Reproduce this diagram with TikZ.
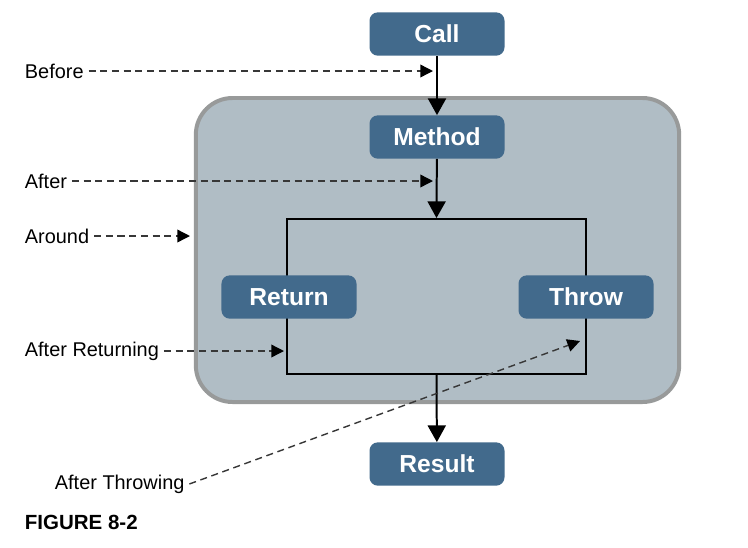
\documentclass[tikz,border=0pt]{standalone}
\usepackage{fontspec}
\setmainfont{Liberation Sans}
\usetikzlibrary{shapes,arrows.meta,positioning,calc}
\definecolor{boxblue}{RGB}{66,106,140}
\definecolor{panelgray}{RGB}{176,189,197}
\definecolor{panelborder}{RGB}{152,154,154}
\definecolor{dashgray}{RGB}{55,55,55}

\begin{document}
\begin{tikzpicture}[x=0.03cm, y=-0.03cm,
        block/.style={rectangle, rounded corners=0.25cm, fill=boxblue, text=white, minimum width=4.05cm, minimum height=1.3cm, inner sep=0pt, font=\fontsize{21}{24}\selectfont\bfseries},
        advice/.style={anchor=west, inner sep=4pt, font=\fontsize{17}{20}\selectfont},
        flow/.style={-{Triangle[length=0.5cm, width=0.54cm]}, line width=1.7pt},
        pointer/.style={dash pattern=on 6pt off 4pt, -{Triangle[length=0.38cm, width=0.38cm, color=black]}, line width=1.2pt, draw=dashgray}]

        \useasboundingbox (0,0) rectangle (748,547);

        % Advice panel
        \node[draw=panelborder, line width=3.4pt, fill=panelgray, rounded corners=1.1cm, minimum width=14.5cm, minimum height=9.12cm, inner sep=0pt] (panel) at (437.5,250) {};
        \node[draw, line width=1.7pt, minimum width=8.97cm, minimum height=4.65cm, inner sep=0pt] (frame) at (436.5,296.5) {};

        % Join points
        \node[block] (call) at (437,34) {Call};
        \node[block] (method) at (437,137) {Method};
        \node[block] (return) at (289,297) {Return};
        \node[block] (throw) at (586,297) {Throw};
        \node[block] (result) at (437,464) {Result};

        \draw[flow] (call) -- (method);
        \draw[flow] (method) -- (frame.north);
        \draw[flow] (frame.south) -- (result);

        % Advice types
        \node[advice] (before) at (20,71) {Before};
        \node[advice] (after) at (20,181) {After};
        \node[advice] (around) at (20,236) {Around};
        \node[advice] (afterret) at (20,351) {After Returning};
        \node[advice] (afterthrow) at (50,484) {After Throwing};
        \node[advice, font=\fontsize{17.5}{20}\selectfont\bfseries] (caption) at (20,522) {FIGURE 8-2};

        \coordinate (beforetip) at (433,71);
        \coordinate (aftertip) at (433,181);
        \coordinate (aroundtip) at (190,236);
        \coordinate (afterrettip) at (284,351);
        \coordinate (afterthrowtip) at (580,341);

        \draw[pointer] (before) -- (beforetip);
        \draw[pointer] (after) -- (aftertip);
        \draw[pointer] (around) -- (aroundtip);
        \draw[pointer] (afterret) -- (afterrettip);
        \draw[pointer] (afterthrow.east) -- (afterthrowtip);

    \end{tikzpicture}
\end{document}
